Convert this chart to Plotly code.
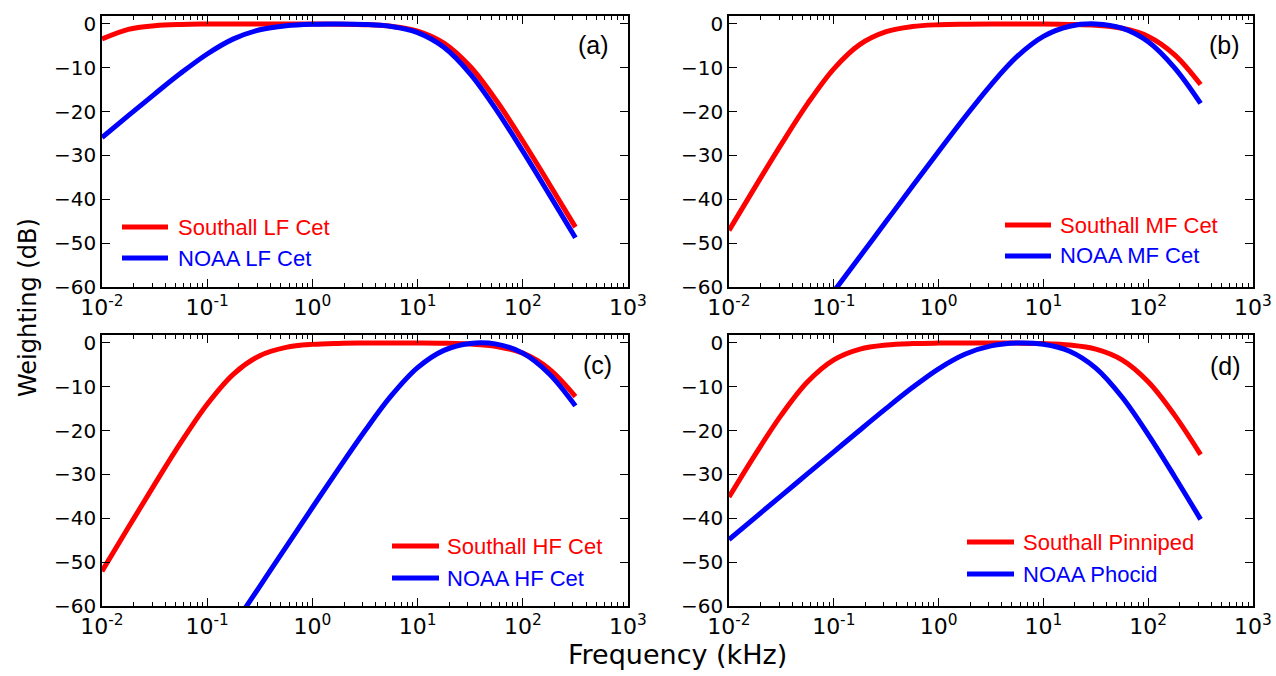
import plotly.graph_objects as go

W, H = 1276, 676

# ---------------- data ----------------
freqs = [0.01, 0.01778, 0.03162, 0.05623, 0.1, 0.1778, 0.3162, 0.5623, 1.0, 1.778,
         3.162, 5.623, 10.0, 17.78, 31.62, 56.23, 100.0, 177.8, 316.2]

southall_lf = [-3.46, -1.25, -0.42, -0.13, -0.04, -0.01, 0.0, 0.0, -0.02, -0.06,
               -0.18, -0.55, -1.63, -4.37, -9.73, -17.54, -26.71, -36.44, -46.35]
noaa_lf = [-25.90, -20.92, -16.00, -11.22, -6.86, -3.42, -1.33, -0.40, -0.06, 0.0,
           -0.12, -0.60, -2.00, -5.34, -11.40, -19.66, -29.03, -38.82, -48.75]
southall_mf = [-47.08, -37.16, -27.42, -18.19, -10.24, -4.67, -1.76, -0.60, -0.19, -0.06,
               -0.02, -0.02, -0.03, -0.11, -0.33, -1.01, -2.86, -6.99, -13.82]
noaa_mf = [-93.02, -85.02, -77.02, -69.02, -61.02, -53.03, -45.03, -37.05, -29.11, -21.30,
           -13.88, -7.42, -2.85, -0.54, -0.01, -0.99, -4.09, -9.98, -18.14]
southall_hf = [-52.06, -42.11, -32.26, -22.70, -13.98, -7.10, -2.92, -1.03, -0.34, -0.11,
               -0.04, -0.02, -0.03, -0.08, -0.26, -0.81, -2.34, -5.92, -12.23]
noaa_hf = [-109.49, -100.49, -91.49, -82.49, -73.49, -64.49, -55.50, -46.51, -37.54, -28.66,
           -20.03, -12.05, -5.65, -1.71, -0.12, -0.29, -2.33, -7.02, -14.36]
southall_pinniped = [-35.16, -25.48, -16.42, -8.88, -3.88, -1.42, -0.48, -0.15, -0.05, -0.02,
                     -0.02, -0.05, -0.15, -0.48, -1.42, -3.87, -8.87, -16.42, -25.47]
noaa_phocid = [-44.83, -39.83, -34.83, -29.83, -24.84, -19.86, -14.94, -10.19, -5.90, -2.59,
               -0.69, -0.02, -0.32, -1.91, -5.76, -12.35, -20.92, -30.41, -40.24]

panel_labels = ["(a)", "(b)", "(c)", "(d)"]
red_names = ["Southall LF Cet", "Southall MF Cet", "Southall HF Cet", "Southall Pinniped"]
blue_names = ["NOAA LF Cet", "NOAA MF Cet", "NOAA HF Cet", "NOAA Phocid"]
red_series = [southall_lf, southall_mf, southall_hf, southall_pinniped]
blue_series = [noaa_lf, noaa_mf, noaa_hf, noaa_phocid]

x_tickvals = [0.01, 0.1, 1, 10, 100, 1000]
x_ticktext = ["10<sup>-2</sup>", "10<sup>-1</sup>", "10<sup>0</sup>",
              "10<sup>1</sup>", "10<sup>2</sup>", "10<sup>3</sup>"]
y_tickvals = [0, -10, -20, -30, -40, -50, -60]
y_ticktext = ["0", "\u221210", "\u221220", "\u221230", "\u221240", "\u221250", "\u221260"]

RED = "#ff0000"
BLUE = "#0000ff"

# ---------------- layout geometry (pixels) ----------------
def px_x(p):
    return p / W

def px_y(p):
    return 1 - p / H

x_domains = [(102, 628), (729, 1253), (102, 628), (729, 1253)]
y_domains = [(16, 287), (16, 287), (335, 606), (335, 606)]

minor_vals = [m * 10 ** e for e in range(-2, 3) for m in range(2, 10)]

fig = go.Figure()
layout = dict(width=W, height=H, margin=dict(l=0, r=0, t=0, b=0, autoexpand=False),
              paper_bgcolor="white", plot_bgcolor="white", showlegend=False)

for i in range(4):
    ax = "" if i == 0 else str(i + 1)
    xa, ya = "x" + ax, "y" + ax
    fig.add_trace(go.Scatter(x=freqs, y=red_series[i], mode="lines", name=red_names[i],
                             line=dict(color=RED, width=5, shape="spline", smoothing=1.0),
                             xaxis=xa, yaxis=ya, hoverinfo="x+y+name"))
    fig.add_trace(go.Scatter(x=freqs, y=blue_series[i], mode="lines", name=blue_names[i],
                             line=dict(color=BLUE, width=5, shape="spline", smoothing=1.0),
                             xaxis=xa, yaxis=ya, hoverinfo="x+y+name"))
    x0, x1 = x_domains[i]
    y0, y1 = y_domains[i]
    layout["xaxis" + ax] = dict(
        type="log", range=[-2, 3], domain=[px_x(x0), px_x(x1)], anchor=ya,
        automargin=False,
        tickmode="array", tickvals=x_tickvals, ticktext=x_ticktext,
        ticks="inside", ticklen=8, tickwidth=1.2, tickcolor="black",
        showline=True, linecolor="black", linewidth=1.5, mirror="allticks",
        showgrid=False, zeroline=False,
        tickfont=dict(family="DejaVu Sans", size=22, color="black"),
        minor=dict(tickmode="array", tickvals=minor_vals, ticks="inside", ticklen=4,
                   tickwidth=1, tickcolor="black", showgrid=False),
    )
    layout["yaxis" + ax] = dict(
        range=[-60, 1.8], domain=[px_y(y1), px_y(y0)], anchor=xa,
        automargin=False,
        tickmode="array", tickvals=y_tickvals, ticktext=y_ticktext,
        ticks="inside", ticklen=8, tickwidth=1.2, tickcolor="black",
        showline=True, linecolor="black", linewidth=1.5, mirror="allticks",
        showgrid=False, zeroline=False,
        tickfont=dict(family="DejaVu Sans", size=20, color="black"),
    )

# legend entries and panel labels (positions in pixels)
legend_pos = [  # line x0, line x1, red y, blue y, text x
    (122, 168, 227, 258, 176),
    (1005, 1051, 225, 256, 1058),
    (392, 439, 546, 578, 445),
    (967, 1014, 542, 574, 1021),
]
label_pos = [(593, 45), (1224, 45), (597, 365), (1225, 366)]

shapes = []
annotations = []
for i in range(4):
    lx0, lx1, ry, by, tx = legend_pos[i]
    for yy, col, name in [(ry, RED, red_names[i]), (by, BLUE, blue_names[i])]:
        shapes.append(dict(type="line", xref="paper", yref="paper",
                           x0=px_x(lx0), x1=px_x(lx1), y0=px_y(yy), y1=px_y(yy),
                           line=dict(color=col, width=5)))
        annotations.append(dict(xref="paper", yref="paper", x=px_x(tx), y=px_y(yy),
                                xanchor="left", yanchor="middle", showarrow=False,
                                text=name, font=dict(family="Liberation Sans", size=22, color=col)))
    lx, ly = label_pos[i]
    annotations.append(dict(xref="paper", yref="paper", x=px_x(lx), y=px_y(ly),
                            xanchor="center", yanchor="middle", showarrow=False,
                            text=panel_labels[i],
                            font=dict(family="Liberation Sans", size=25, color="black")))

annotations.append(dict(xref="paper", yref="paper", x=px_x(677), y=px_y(654),
                        xanchor="center", yanchor="middle", showarrow=False,
                        text="Frequency (kHz)",
                        font=dict(family="DejaVu Sans", size=27, color="black")))
annotations.append(dict(xref="paper", yref="paper", x=px_x(28), y=px_y(308),
                        xanchor="center", yanchor="middle", showarrow=False, textangle=-90,
                        text="Weighting (dB)",
                        font=dict(family="DejaVu Sans", size=24, color="black")))

layout["shapes"] = shapes
layout["annotations"] = annotations
fig.update_layout(**layout)
fig.write_html("out.html", config={"displayModeBar": False},
               post_script="document.body.style.margin='0px';document.body.style.overflow='hidden';")
